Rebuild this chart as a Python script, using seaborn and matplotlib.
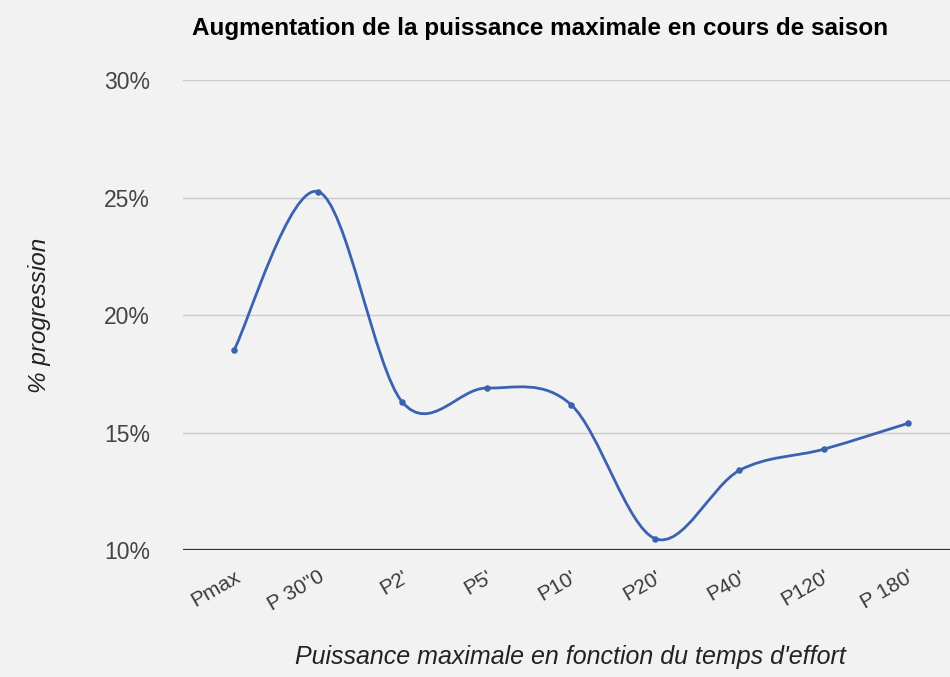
import numpy as np
import pandas as pd
import matplotlib
matplotlib.use("Agg")
import matplotlib.pyplot as plt
from matplotlib.path import Path
from matplotlib.patches import PathPatch
import seaborn as sns

# Data
durations = ["Pmax", "P 30\"0", "P2'", "P5'", "P10'", "P20'", "P40'", "P120'", "P 180'"]
progression = [18.5, 25.25, 16.3, 16.9, 16.2, 10.5, 13.4, 14.3, 15.4]
y_ticks = [10, 15, 20, 25, 30]

LINE_COLOR = "#3a62b0"
BG = "#f2f2f2"

sns.set_theme(style="white")
plt.rcParams['font.family'] = ['Liberation Sans', 'DejaVu Sans']

df = pd.DataFrame({"pos": np.arange(len(durations)), "value": progression})

fig = plt.figure(figsize=(9.5, 6.77), dpi=100, facecolor=BG)
ax = fig.add_axes([0.193, 0.187, 0.807, 0.695])
ax.set_facecolor(BG)

# smooth curve (Catmull-Rom style bezier through the data points), like the "function" curve type
xs = df["pos"].to_numpy(dtype=float)
ys = df["value"].to_numpy(dtype=float)
n = len(xs)
verts = [(xs[0], ys[0])]
codes = [Path.MOVETO]
for i in range(n - 1):
    x0, y0 = (xs[i - 1], ys[i - 1]) if i > 0 else (xs[i], ys[i])
    x3, y3 = (xs[i + 2], ys[i + 2]) if i + 2 < n else (xs[i + 1], ys[i + 1])
    c1 = (xs[i] + (xs[i + 1] - x0) / 6, ys[i] + (ys[i + 1] - y0) / 6)
    c2 = (xs[i + 1] - (x3 - xs[i]) / 6, ys[i + 1] - (y3 - ys[i]) / 6)
    verts += [c1, c2, (xs[i + 1], ys[i + 1])]
    codes += [Path.CURVE4, Path.CURVE4, Path.CURVE4]
ax.add_patch(PathPatch(Path(verts, codes), facecolor="none", edgecolor=LINE_COLOR,
                       lw=2.0, capstyle="round", joinstyle="round", zorder=3))

sns.scatterplot(data=df, x="pos", y="value", ax=ax, color=LINE_COLOR, s=22,
                edgecolor=LINE_COLOR, linewidth=0, zorder=4, legend=False)

ax.set_xlim(-0.6, 8.5)
ax.set_ylim(10, 30)
ax.set_yticks(y_ticks)
ax.set_yticklabels([f"{t}%" for t in y_ticks], fontsize=16.5, color="#444444")
ax.set_xticks(df["pos"])
ax.set_xticklabels(durations, fontsize=15, color="#3a3a3a", rotation=30,
                   ha="right", rotation_mode="anchor")
ax.tick_params(axis="y", length=0, pad=24)
ax.tick_params(axis="x", length=0, pad=12)

for t in y_ticks[1:]:
    ax.axhline(t, color="#cccccc", lw=1, zorder=1)
ax.axhline(10, color="#333333", lw=1.6, zorder=2)
for s in ax.spines.values():
    s.set_visible(False)

ax.set_xlabel("Puissance maximale en fonction du temps d'effort", fontsize=18,
              style="italic", color="#222222")
ax.xaxis.set_label_coords(0.505, -0.2)
ax.set_ylabel("% progression", fontsize=17.5, style="italic", color="#222222", labelpad=38)

fig.text(0.569, 0.958, "Augmentation de la puissance maximale en cours de saison",
         ha="center", va="center", fontsize=17.5, fontweight="bold", color="#000000")

fig.savefig("out.png", dpi=100, facecolor=BG)
